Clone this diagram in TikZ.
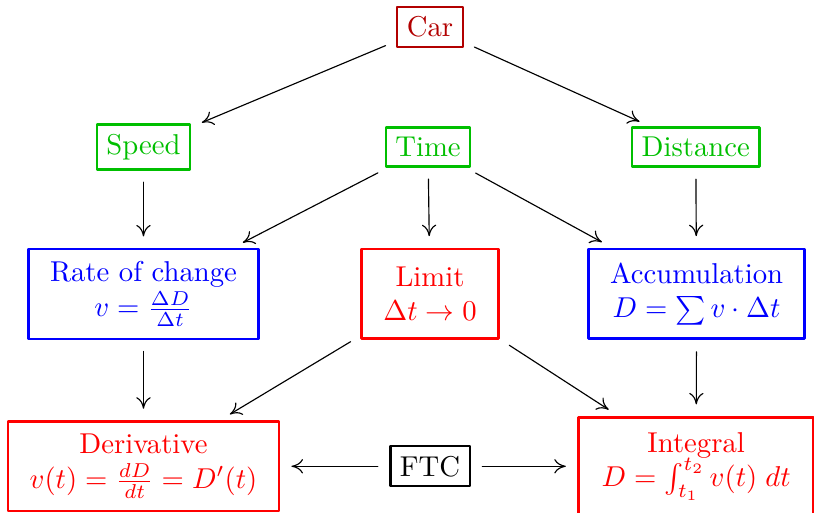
\documentclass[tikz,border=0pt]{standalone}
\usetikzlibrary{arrows.meta}
\begin{document}
\begin{tikzpicture}[line join=round, line cap=round, >={Computer Modern Rightarrow[length=4pt,width=5pt]},
  box/.style={draw, thick, align=center},
  source/.style={box, red!70!black},
  topic/.style={box, green!75!black},
  idea/.style={box, inner xsep=7.5pt, inner ysep=3.5pt, minimum height=1.1cm},
  link/.style={->, shorten >=4pt, shorten <=4pt}]
  \def \xL{1.757}
  \def \xM{5.266}
  \def \xR{8.53}
  \def \yA{-0.331}
  \def \yB{-1.80}
  \def \yC{-3.60}
  \def \yD{-5.71}
  \useasboundingbox (0,0) rectangle (9.968,-6.282);
  % top
  \node[source] (car) at (\xM,\yA) {Car};
  % measured quantities
  \node[topic] (speed) at (\xL,\yB) {Speed};
  \node[topic] (time) at (\xM-0.025,\yB) {Time};
  \node[topic] (dist) at (\xR-0.01,\yB) {Distance};
  % ideas
  \node[idea, blue] (rate) at (\xL,\yC) {Rate of change\\ $v=\frac{\Delta D}{\Delta t}$};
  \node[idea, red, line width=1pt] (limit) at (\xM,\yC) {Limit\\ $\Delta t\to 0$};
  \node[idea, blue, line width=1pt] (accum) at (\xR,\yC) {Accumulation\\ $D=\sum v\cdot\Delta t$};
  \node[idea, red] (deriv) at (\xL,\yD) {Derivative\\ $v(t)=\frac{dD}{dt}=D'(t)$};
  \node[idea, red, line width=1pt, inner xsep=8pt, minimum height=1.2cm] (integ) at (\xR-0.005,\yD) {Integral\\ $D=\int_{t_1}^{t_2} v(t)\;dt$};
  \node[box] (ftc) at (\xM,\yD) {FTC};
  % connections
  \draw[link] (car) -- (speed);
  \draw[link] (car) -- (dist);
  \draw[link] (speed) -- (rate);
  \draw[link] (dist) -- (accum);
  \draw[link] (time) -- (rate);
  \draw[link] (time) -- (limit);
  \draw[link] (time) -- (accum);
  \draw[link] (rate) -- (deriv);
  \draw[link] (accum) -- (integ);
  \draw[link] (limit) -- (deriv);
  \draw[link] (limit) -- (integ);
  \draw[link] (ftc) -- (deriv);
  \draw[link] (ftc) -- (integ);
\end{tikzpicture}
\end{document}
